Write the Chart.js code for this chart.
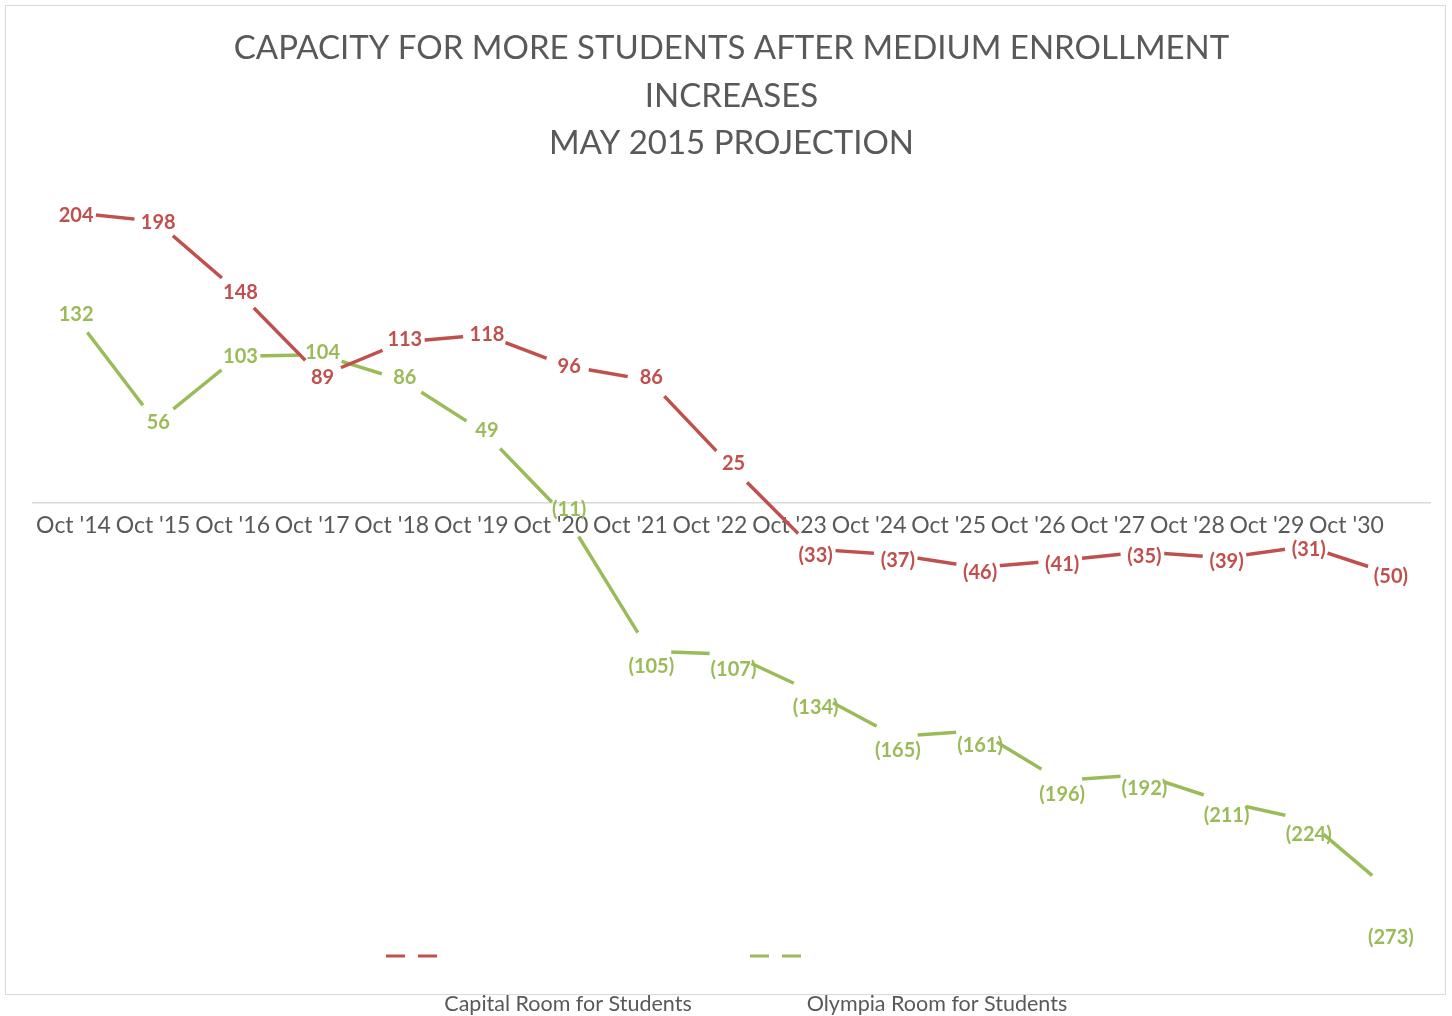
<!DOCTYPE html>
<html>
<head>
<meta charset="utf-8">
<script src="https://cdn.jsdelivr.net/npm/chart.js@4"></script>
<style>
  body { margin: 0; background: #fff; }
  #wrap { width: 1452px; height: 1016px; position: relative; }
</style>
</head>
<body>
<div id="wrap"><canvas id="mycanvas"></canvas></div>
<script>
var years = ["Oct '14", "Oct '15", "Oct '16", "Oct '17", "Oct '18", "Oct '19", "Oct '20", "Oct '21", "Oct '22",
             "Oct '23", "Oct '24", "Oct '25", "Oct '26", "Oct '27", "Oct '28", "Oct '29", "Oct '30"];
var capital = [204, 198, 148, 89, 113, 118, 96, 86, 25, -33, -37, -46, -41, -35, -39, -31, -50];
var olympia = [132, 56, 103, 104, 86, 49, -11, -105, -107, -134, -165, -161, -196, -192, -211, -224, -273];
var seriesNames = ['Capital Room for Students', 'Olympia Room for Students'];
var titleLines = ['CAPACITY FOR MORE STUDENTS AFTER MEDIUM ENROLLMENT', 'INCREASES', 'MAY 2015 PROJECTION'];

var red = '#C0504D';
var green = '#9BBB59';
var grey = '#595959';

// label nudges (px) so the data labels sit where excel put them
var capitalShift = [3, 1, 0, 2, -2, 0, 0, -3, -3, 6, 6, 5, 4, 5, 4, 3, 3];
var olympiaShift = [0, 0, 0, -2, -3, -2, -8, 15, 15, 15, 14, 15, 14, 14, 14, 14, 48];

function fmt(v) {
    return v < 0 ? '(' + (-v) + ')' : '' + v;
}

// cut a gap in each line around its own points
var gapPlugin = {
    id: 'gaps',
    beforeDatasetDraw: function(chart, args) {
        var ctx = chart.ctx;
        ctx.save();
        ctx.beginPath();
        ctx.rect(0, 0, chart.width, chart.height);
        args.meta.data.forEach(function(pt) {
            ctx.moveTo(pt.x + 22, pt.y);
            ctx.arc(pt.x, pt.y, 22, 0, Math.PI * 2);
        });
        ctx.clip('evenodd');
    },
    afterDatasetDraw: function(chart) {
        chart.ctx.restore();
    }
};

var labelPlugin = {
    id: 'valueLabels',
    afterDatasetsDraw: function(chart) {
        var ctx = chart.ctx;
        ctx.save();
        ctx.font = 'bold 20px Lato';
        ctx.textAlign = 'center';
        ctx.textBaseline = 'middle';
        chart.data.datasets.forEach(function(ds, i) {
            var meta = chart.getDatasetMeta(i);
            var shift = i === 0 ? capitalShift : olympiaShift;
            ctx.fillStyle = ds.borderColor;
            meta.data.forEach(function(pt, j) {
                ctx.fillText(fmt(ds.data[j]), pt.x + 2, pt.y + shift[j]);
            });
        });
        ctx.restore();
    }
};

var framePlugin = {
    id: 'frame',
    afterDraw: function(chart) {
        var ctx = chart.ctx;
        ctx.save();
        ctx.strokeStyle = '#d9d9d9';
        ctx.lineWidth = 1;
        ctx.strokeRect(5.5, 5.5, 1440, 989);

        // legend: dashed markers inside the frame, names below it
        var items = [
            { color: red, x: 386, textX: 568 },
            { color: green, x: 750, textX: 937 }
        ];
        items.forEach(function(it, i) {
            ctx.strokeStyle = it.color;
            ctx.lineWidth = 3;
            ctx.setLineDash([19, 13]);
            ctx.beginPath();
            ctx.moveTo(it.x, 956);
            ctx.lineTo(it.x + 51, 956);
            ctx.stroke();
            ctx.setLineDash([]);
            ctx.fillStyle = grey;
            ctx.font = '21.5px Lato';
            ctx.textAlign = 'center';
            ctx.textBaseline = 'middle';
            ctx.fillText(seriesNames[i], it.textX, 1004);
        });
        ctx.restore();
    }
};

var chartdata = {
    labels: years,
    datasets: [
        {
            label: seriesNames[0],
            data: capital,
            borderColor: red,
            backgroundColor: red,
            borderWidth: 3.5,
            pointRadius: 0,
            tension: 0,
            xAxisID: 'x',
            yAxisID: 'y'
        },
        {
            label: seriesNames[1],
            data: olympia,
            borderColor: green,
            backgroundColor: green,
            borderWidth: 3.5,
            pointRadius: 0,
            tension: 0,
            xAxisID: 'x',
            yAxisID: 'y'
        }
    ]
};

var ctx = document.getElementById('mycanvas');

var lineGraph = new Chart(ctx, {
    type: 'line',
    data: chartdata,
    plugins: [gapPlugin, labelPlugin, framePlugin],
    options: {
        responsive: true,
        maintainAspectRatio: false,
        animation: false,
        layout: { padding: { left: 33, right: 22, top: 0, bottom: 88 } },
        plugins: {
            legend: { display: false },
            tooltip: { enabled: false },
            title: {
                display: true,
                text: titleLines,
                color: grey,
                font: { family: 'Lato', size: 33, weight: '400', lineHeight: 1.44 },
                padding: { top: 25, bottom: -20 }
            }
        },
        scales: {
            x: {
                type: 'category',
                position: { y: 0 },
                offset: true,
                grid: { display: false },
                border: { display: true, color: '#d9d9d9', width: 1.5 },
                ticks: { display: false }
            },
            // excel laid the category names out a bit tighter than the points
            xl: {
                type: 'linear',
                axis: 'x',
                position: { y: 0 },
                min: -0.509,
                max: 17.05,
                grid: { display: false },
                border: { display: false },
                ticks: {
                    stepSize: 1,
                    autoSkip: false,
                    maxRotation: 0,
                    includeBounds: false,
                    padding: 1,
                    color: grey,
                    font: { family: 'Lato', size: 23 },
                    callback: function(v) {
                        return (Number.isInteger(v) && v >= 0 && v < years.length) ? years[v] : '';
                    }
                }
            },
            y: {
                display: false,
                min: -300,
                max: 250
            }
        }
    }
});
</script>
</body>
</html>
